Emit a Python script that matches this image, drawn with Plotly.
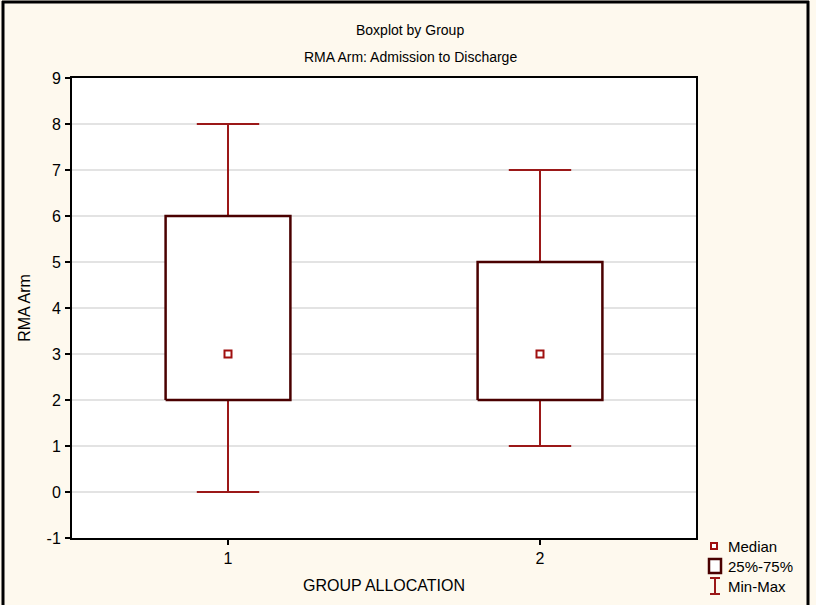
import plotly.graph_objects as go

groups = [1, 2]
minimum = [0, 1]
q1 = [2, 2]
median = [3, 3]
q3 = [6, 5]
maximum = [8, 7]

y_ticks = [-1, 0, 1, 2, 3, 4, 5, 6, 7, 8, 9]
legend_labels = ["Median", "25%-75%", "Min-Max"]

box_half = 0.2
cap_half = 0.1
whisker_color = "#9B1818"
box_color = "#4A0000"
median_color = "#A01010"
font = "Liberation Sans, Arial, sans-serif"

# plot area in pixels (for converting fixed-position decorations to paper coords)
L, R, T, B = 72, 696, 78, 538
def px(x):
    return (x - L) / (R - L)
def py(y):
    return (B - y) / (B - T)

fig = go.Figure()

for g, lo, a, m, b, hi in zip(groups, minimum, q1, median, q3, maximum):
    fig.add_trace(go.Scatter(
        x=[g, g, None, g - cap_half, g + cap_half, None, g, g, None, g - cap_half, g + cap_half],
        y=[b, hi, None, hi, hi, None, a, lo, None, lo, lo],
        mode="lines", line=dict(color=whisker_color, width=2),
        showlegend=False, hoverinfo="skip"))
    fig.add_trace(go.Scatter(
        x=[g - box_half, g + box_half, g + box_half, g - box_half, g - box_half],
        y=[a, a, b, b, a],
        mode="lines", line=dict(color=box_color, width=2.5),
        fill="toself", fillcolor="white",
        showlegend=False, hoverinfo="skip"))
    fig.add_trace(go.Scatter(
        x=[g], y=[m], mode="markers",
        marker=dict(symbol="square-open", size=7, color=median_color, line=dict(width=2)),
        showlegend=False, hoverinfo="skip"))

fig.update_layout(
    width=816, height=605,
    margin=dict(l=L, r=816 - R, t=T, b=605 - B, autoexpand=False),
    paper_bgcolor="#FEF9EE",
    plot_bgcolor="white",
    font=dict(family=font, size=15, color="black"),
    showlegend=False,
)

fig.add_annotation(text="Boxplot by Group", xref="paper", yref="paper",
                   x=px(410), y=py(30), showarrow=False,
                   font=dict(size=14), xanchor="center", yanchor="middle")
fig.add_annotation(text="RMA Arm: Admission to Discharge", xref="paper", yref="paper",
                   x=px(410), y=py(57), showarrow=False,
                   font=dict(size=14), xanchor="center", yanchor="middle")

# legend (manual)
for lbl, yy in zip(legend_labels, [546, 566, 586]):
    fig.add_annotation(text=lbl, xref="paper", yref="paper", x=px(726), y=py(yy),
                       showarrow=False, xanchor="left", yanchor="middle", font=dict(size=15))
fig.add_shape(type="rect", xref="paper", yref="paper",
              x0=px(711), x1=px(717), y0=py(549), y1=py(543),
              line=dict(color=median_color, width=2), fillcolor="white")
fig.add_shape(type="rect", xref="paper", yref="paper",
              x0=px(709), x1=px(721), y0=py(573), y1=py(559),
              line=dict(color=box_color, width=2.5), fillcolor="white")
fig.add_shape(type="path", xref="paper", yref="paper",
              path=(f"M {px(715)} {py(578)} L {px(715)} {py(594)} "
                    f"M {px(710)} {py(578)} L {px(720)} {py(578)} "
                    f"M {px(710)} {py(594)} L {px(720)} {py(594)}"),
              line=dict(color=whisker_color, width=2))

fig.update_xaxes(range=[0.5, 2.5], tickvals=groups, ticktext=[str(g) for g in groups],
                 showgrid=False, zeroline=False, showline=True, linecolor="black", linewidth=2,
                 mirror=True, ticks="outside", ticklen=5, tickcolor="black", tickwidth=1.5,
                 tickfont=dict(size=16),
                 title=dict(text="GROUP ALLOCATION", font=dict(size=16), standoff=14))
fig.update_yaxes(range=[-1, 9], tickvals=y_ticks, ticktext=[str(t) for t in y_ticks],
                 showgrid=True, gridcolor="#E3E3E3", gridwidth=1.5, zeroline=False,
                 showline=True, linecolor="black", linewidth=2, mirror=True,
                 ticks="outside", ticklen=5, tickcolor="black", tickwidth=1.5,
                 tickfont=dict(size=16), ticklabelstandoff=1,
                 title=dict(text="RMA Arm", font=dict(size=16), standoff=12))

# outer figure border
for x0, x1, y0, y1 in [(3, 3, 1, 605), (808, 808, 1, 605), (2, 809, 2, 2)]:
    fig.add_shape(type="line", xref="paper", yref="paper",
                  x0=px(x0), x1=px(x1), y0=py(y0), y1=py(y1),
                  line=dict(color="black", width=3), layer="above")

fig.write_html("out.html", config={"displayModeBar": False},
               post_script="document.body.style.margin='0';document.body.style.overflow='hidden';")
